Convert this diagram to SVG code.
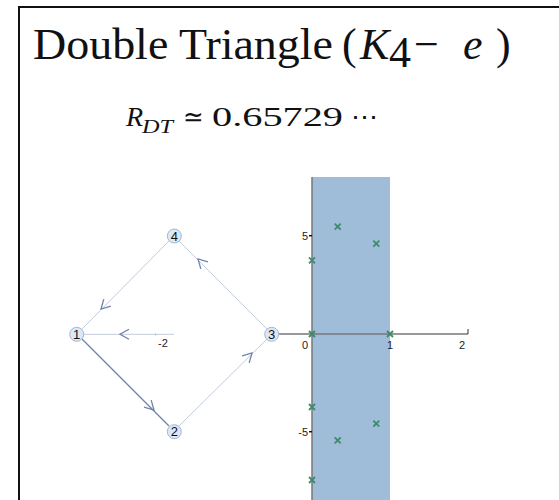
<svg xmlns="http://www.w3.org/2000/svg" width="559" height="500" viewBox="0 0 559 500">
<style>
.title{font-family:"Liberation Serif",serif;font-size:44px;fill:#111}
.math{font-family:"Liberation Serif",serif;fill:#111}
.it{font-style:italic}
.edge{stroke:#c3cbdd;stroke-width:1;fill:none}
.edgeD{stroke:#6f82a8;stroke-width:1.3;fill:none}
.arr{stroke:#6f82a8;stroke-width:1.3;fill:none}
.node circle{fill:#dbe9f7;stroke:#a7b6cc;stroke-width:1}
.node text{font-family:"Liberation Sans",Arial,sans-serif;font-size:13px;fill:#111;text-anchor:middle}
.tick{font-family:"Liberation Sans",Arial,sans-serif;font-size:11px;fill:#222}
.pt{stroke:#3f8a6c;stroke-width:1.8}
</style>
<defs>
<path id="x" d="M-3,-3L3,3M-3,3L3,-3"/>
<path id="chev" d="M-9,-5L0,0L-9,5"/>
</defs>
<rect width="559" height="500" fill="#fff"/>
<path d="M19,500V7H559" fill="none" stroke="#111" stroke-width="2"/>
<g id="title">
<text class="title" x="33" y="59" textLength="300" lengthAdjust="spacingAndGlyphs">Double Triangle</text>
<text class="title" x="342" y="59">(</text>
<text class="title it" x="360" y="59">K</text>
<text class="title" x="389" y="67" font-size="24">4</text>
<text class="title" x="414" y="59">−</text>
<text class="title it" x="463" y="59">e</text>
<text class="title" x="496" y="59">)</text>
</g>
<g id="subtitle">
<text class="math it" x="126" y="126" font-size="28">R</text>
<text class="math it" x="142" y="133" font-size="19" textLength="31" lengthAdjust="spacingAndGlyphs">DT</text>
<text class="math" x="183" y="126" font-size="27" textLength="21" lengthAdjust="spacingAndGlyphs">≃</text>
<text class="math" x="212" y="126" font-size="27" textLength="131" lengthAdjust="spacingAndGlyphs">0.65729</text>
<text class="math" x="351" y="126" font-size="27" textLength="27" lengthAdjust="spacingAndGlyphs">⋯</text>
</g>
<g id="plot">
<rect x="312" y="177" width="78" height="323" fill="#9fbcd8"/>
<line x1="312" y1="177" x2="312" y2="500" stroke="#777" stroke-width="1.5"/>
<line x1="278" y1="334" x2="468" y2="334" stroke="#777" stroke-width="1.5"/>
<line x1="468" y1="329" x2="468" y2="334" stroke="#333" stroke-width="1"/>
<line x1="309" y1="235.7" x2="312" y2="235.7" stroke="#111" stroke-width="1.5"/>
<line x1="309" y1="431.7" x2="312" y2="431.7" stroke="#111" stroke-width="1.5"/>
<circle cx="155.7" cy="334.5" r="0.7" fill="#333"/>
<text class="tick" x="305" y="349" text-anchor="middle">0</text>
<text class="tick" x="390" y="349" text-anchor="middle">1</text>
<text class="tick" x="462" y="349" text-anchor="middle">2</text>
<text class="tick" x="163" y="347" text-anchor="middle">-2</text>
<text class="tick" x="308" y="239.5" text-anchor="end">5</text>
<text class="tick" x="308" y="435.5" text-anchor="end">-5</text>
<g fill="none">
<use href="#x" class="pt" x="337.7" y="226.7"/>
<use href="#x" class="pt" x="376.3" y="243.7"/>
<use href="#x" class="pt" x="312" y="260.3"/>
<use href="#x" class="pt" x="312" y="334"/>
<use href="#x" class="pt" x="390" y="334"/>
<use href="#x" class="pt" x="312" y="407"/>
<use href="#x" class="pt" x="376.3" y="423.7"/>
<use href="#x" class="pt" x="337.7" y="440.3"/>
<use href="#x" class="pt" x="312" y="480"/>
</g>
</g>
<g id="connectors">
<line class="edge" x1="169" y1="241" x2="82" y2="329"/>
<line class="edge" x1="267" y1="329" x2="179" y2="241"/>
<line class="edgeD" x1="82" y1="339" x2="169" y2="426"/>
<line class="edge" x1="179" y1="426" x2="267" y2="339"/>
<line class="edge" x1="84" y1="334.3" x2="174" y2="334.3"/>
<use href="#chev" class="arr" transform="translate(101,309) rotate(135)"/>
<use href="#chev" class="arr" transform="translate(198,259) rotate(-135)"/>
<use href="#chev" class="arr" transform="translate(154,410) rotate(45)"/>
<use href="#chev" class="arr" transform="translate(252,353) rotate(-45)"/>
<use href="#chev" class="arr" transform="translate(120,334.3) rotate(180)"/>
</g>
<g id="n4" class="node"><circle cx="174.3" cy="236" r="7"/><text x="174.3" y="240.6">4</text></g>
<g id="n1" class="node"><circle cx="76.7" cy="334.3" r="7"/><text x="76.7" y="338.9">1</text></g>
<g id="n3" class="node"><circle cx="271.7" cy="334.3" r="7"/><text x="271.7" y="338.9">3</text></g>
<g id="n2" class="node"><circle cx="174.3" cy="431.7" r="7"/><text x="174.3" y="436.3">2</text></g>
</svg>
